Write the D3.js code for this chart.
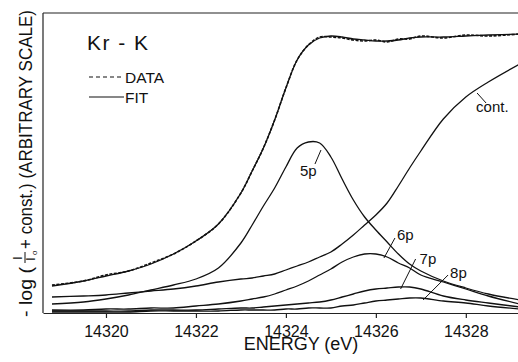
<!DOCTYPE html>
<html lang="en"><head>
<meta charset="utf-8">
<title>Kr-K</title>
<script src="https://cdn.jsdelivr.net/npm/d3@7"></script>
<style>
  body { margin: 0; background: #fff; }
  svg text { font-family: "Liberation Sans", Arial, sans-serif; fill: #111; }
</style>
</head>
<body>
<svg width="518" height="362"></svg>
<script>
// energies (eV) where the curves were read
var energy = [14318.8, 14319.5, 14320, 14320.5, 14321, 14321.5, 14322, 14322.5, 14323, 14323.25,
              14323.5, 14323.75, 14324, 14324.25, 14324.5, 14324.75, 14325, 14325.25, 14325.5, 14325.75,
              14326, 14326.25, 14326.5, 14326.75, 14327, 14327.5, 14328, 14328.5, 14329.2];
// arbitrary units
var fit  = [27, 32, 37, 42, 49, 59, 72, 89, 120, 142, 165, 193, 225, 253, 268, 275, 277, 276, 274, 273,
            272, 272, 273, 275, 276, 276, 277, 278, 279];
var data = [28, 32, 38, 42, 50, 59, 72, 89, 120, 142, 165, 193, 225, 253, 268, 276, 276, 275, 273, 272,
            273, 271, 274, 274, 277, 275, 278, 277, 279];
var cont = [16, 17, 18, 20, 22, 24, 27, 31, 34, 35, 37, 39, 43, 47, 51, 56, 61, 69, 78, 88,
            98, 110, 127, 145, 162, 194, 216, 231, 249];
var p5 = [9, 11, 14, 18, 23, 28, 34, 45, 70, 88, 107, 125, 146, 165, 171, 170, 156, 134, 113, 96,
          83, 71, 59, 49, 42, 32, 25, 19, 13];
var p6 = [3, 3, 4, 4, 5, 5, 7, 9, 12, 14, 16, 19, 23, 27, 32, 38, 44, 51, 56, 59,
          59, 56, 50, 45, 38, 31, 24, 17, 9];
var p7 = [2, 2, 2, 2, 3, 3, 3, 4, 5, 5, 6, 7, 8, 9, 10, 11, 13, 16, 19, 22,
          24, 25, 26, 26, 24, 17, 13, 10, 6];
var p8 = [1, 1, 1, 1, 2, 2, 2, 2, 3, 3, 3, 3, 4, 4, 5, 5, 5, 7, 8, 10,
          12, 13, 14, 15, 15, 12, 10, 7, 4];
var xTicks = [14320, 14322, 14324, 14326, 14328];

// peak labels: name, energy / value on the curve where the leader starts
var labelNames = ["5p", "6p", "7p", "8p", "cont."];
var labelE = [14324.78, 14326.18, 14326.55, 14327.05, 14328.25];
var labelV = [165, 57, 26, 15, 223];

var svg = d3.select("svg");
var mLeft = 43, mRight = 518, mTop = 13, mBottom = 313;

var x = d3.scaleLinear().domain([14318.6, 14329.16]).range([mLeft, mRight]);
var y = d3.scaleLinear().domain([0, 300]).range([mBottom, mTop]);

// frame
svg.append("line").attr("x1", mLeft).attr("x2", mRight).attr("y1", mTop).attr("y2", mTop)
   .attr("stroke", "#222").attr("stroke-width", 1.2);
svg.append("line").attr("x1", mLeft).attr("x2", mLeft).attr("y1", mTop).attr("y2", mBottom)
   .attr("stroke", "#222").attr("stroke-width", 1.2);

var xAxis = d3.axisBottom(x).tickValues(xTicks).tickFormat(d3.format("d"))
   .tickSize(5).tickSizeOuter(0).tickPadding(8);
var gx = svg.append("g").attr("transform", "translate(0," + mBottom + ")").call(xAxis);
gx.select(".domain").attr("stroke", "#222").attr("stroke-width", 1.2);
gx.selectAll(".tick line").attr("stroke", "#222").attr("stroke-width", 1.2);
gx.selectAll(".tick text").attr("font-size", 16).attr("fill", "#111")
   .style("font-family", "'Liberation Sans', Arial, sans-serif");

svg.append("text").attr("x", 301).attr("y", 350).attr("text-anchor", "middle")
   .attr("font-size", 18).text("ENERGY (eV)");

// y label, rotated
var gy = svg.append("g").attr("transform", "translate(32,317) rotate(-90)");
gy.append("text").attr("x", 0).attr("y", 0).attr("font-size", 18)
  .attr("textLength", 50).attr("lengthAdjust", "spacingAndGlyphs").text("- log (");
gy.append("text").attr("x", 59).attr("y", -10).attr("font-size", 12).attr("text-anchor", "middle").text("I");
gy.append("line").attr("x1", 54).attr("x2", 65).attr("y1", -7).attr("y2", -7)
  .attr("stroke", "#111").attr("stroke-width", 1);
gy.append("text").attr("x", 58).attr("y", 3).attr("font-size", 12).attr("text-anchor", "middle").text("I");
gy.append("text").attr("x", 62).attr("y", 5).attr("font-size", 8).text("o");
gy.append("text").attr("x", 68).attr("y", 0).attr("font-size", 18)
  .attr("textLength", 239).attr("lengthAdjust", "spacingAndGlyphs")
  .text("+ const.) (ARBITRARY SCALE)");

// curves
svg.append("clipPath").attr("id", "plot").append("rect")
   .attr("x", mLeft).attr("y", mTop).attr("width", mRight - mLeft).attr("height", mBottom - mTop);

var line = d3.line()
   .x(function(d, i) { return x(energy[i]); })
   .y(function(d) { return y(d); })
   .curve(d3.curveCatmullRom.alpha(0.5));

var series = [p8, p7, p6, p5, cont, fit];
svg.append("g").attr("clip-path", "url(#plot)")
  .selectAll("path.curve").data(series).enter().append("path")
   .attr("class", "curve")
   .attr("d", line)
   .attr("fill", "none").attr("stroke", "#111").attr("stroke-width", 1.3);

svg.append("path").datum(data).attr("clip-path", "url(#plot)")
   .attr("d", line).attr("fill", "none").attr("stroke", "#111")
   .attr("stroke-width", 1.6).attr("stroke-dasharray", "3,1.5");

// labels with leaders
var leadDx = [-6, 11, 15, 25, 9];
var leadDy = [-14, 20, 30, 25, -10];
var textDx = [-21, 13, 19, 27, -1];
var textDy = [-26, 18, 25, 22, -19];
labelNames.forEach(function(name, i) {
  var ax = x(labelE[i]), ay = y(labelV[i]) + 2;
  if (i == 4) ay = y(labelV[i]) + 3;
  var ex = ax + leadDx[i], ey = ay - leadDy[i];
  svg.append("line").attr("x1", ax).attr("y1", ay).attr("x2", ex).attr("y2", ey)
     .attr("stroke", "#111").attr("stroke-width", 1);
  svg.append("text").attr("x", ax + textDx[i]).attr("y", ay - textDy[i])
     .attr("font-size", 15).text(name);
});

// legend
svg.append("text").attr("x", 87).attr("y", 50).attr("font-size", 21)
   .attr("textLength", 61).attr("lengthAdjust", "spacing").text("Kr - K");
svg.append("line").attr("x1", 89).attr("x2", 124).attr("y1", 77).attr("y2", 77)
   .attr("stroke", "#111").attr("stroke-width", 1.2).attr("stroke-dasharray", "4,3");
svg.append("text").attr("x", 125).attr("y", 83).attr("font-size", 15.5).text("DATA");
svg.append("line").attr("x1", 89).attr("x2", 124).attr("y1", 97).attr("y2", 97)
   .attr("stroke", "#111").attr("stroke-width", 1.2);
svg.append("text").attr("x", 125).attr("y", 103).attr("font-size", 15.5).text("FIT");
</script>
</body>
</html>
